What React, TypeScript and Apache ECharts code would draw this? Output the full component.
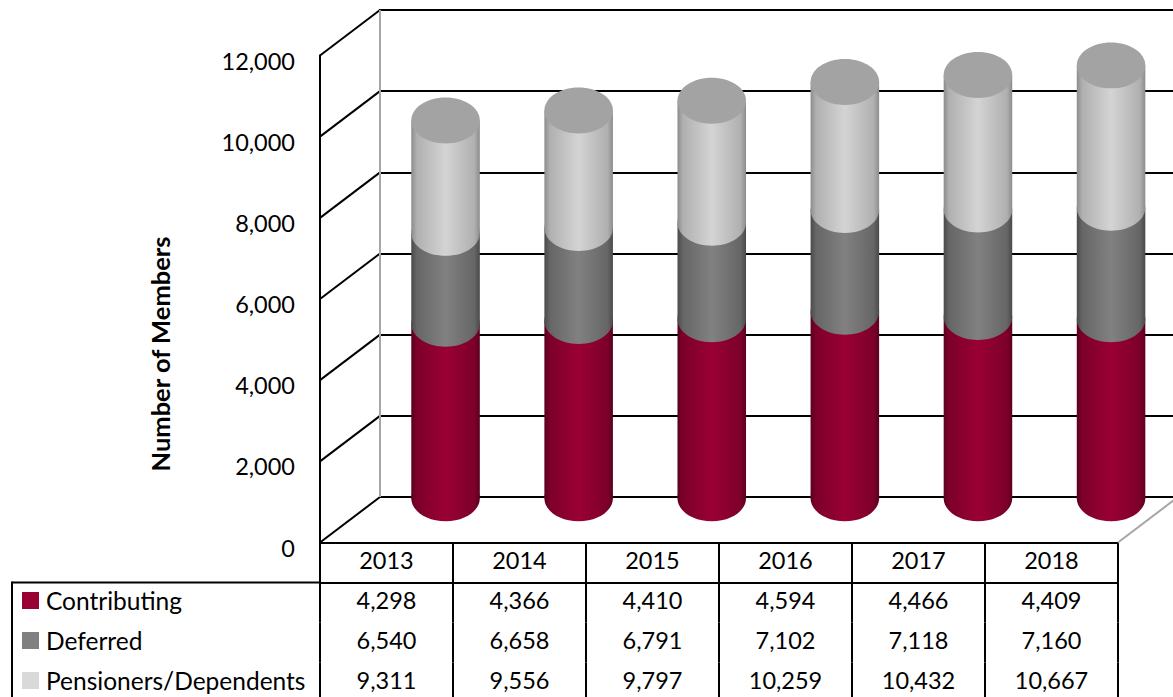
import React, { useEffect, useRef } from "react";
import * as echarts from "echarts";

const years = ["2013", "2014", "2015", "2016", "2017", "2018"];
const contributing = [4298, 4366, 4410, 4594, 4466, 4409];
const deferred = [6540, 6658, 6791, 7102, 7118, 7160];
const pensioners = [9311, 9556, 9797, 10259, 10432, 10667];
const yTicks = [0, 2000, 4000, 6000, 8000, 10000, 12000];

const FONT = "Lato";
const FS = 23.5;
const fmt = (v: number) => v.toLocaleString("en-US");

const grad = (edge: string, mid: string, center: string) =>
  new echarts.graphic.LinearGradient(0, 0, 1, 0, [
    { offset: 0, color: edge },
    { offset: 0.08, color: mid },
    { offset: 0.5, color: center },
    { offset: 0.92, color: mid },
    { offset: 1, color: edge },
  ]);

const makeCylinder = (edge: string, mid: string, center: string, cap: boolean) =>
  (_: any, api: any) => {
    const top = api.coord([api.value(0), api.value(1)]);
    const base = api.coord([api.value(0), api.value(2)]);
    const rx = api.size([1, 0])[0] * 0.2575;
    const ry = rx * 0.67;
    const dy = 1.3;
    const fill = grad(edge, mid, center);
    const children: any[] = [
      { type: "rect", shape: { x: top[0] - rx, y: top[1] + dy, width: 2 * rx, height: base[1] - top[1] }, style: { fill } },
      { type: "ellipse", shape: { cx: top[0], cy: base[1] + dy, rx, ry }, style: { fill } },
    ];
    if (cap) {
      children.push({ type: "ellipse", shape: { cx: top[0], cy: top[1] + dy, rx, ry }, style: { fill: "#a3a3a3" } });
    }
    return { type: "group", children };
  };

const rows = (arr: number[]) => arr.map(fmt);

export default function App() {
  const ref = useRef<HTMLDivElement>(null);
  useEffect(() => {
    document.body.style.margin = "0";
    const chart = echarts.init(ref.current!, undefined, { renderer: "svg" });

    const backTop = 10;
    const step = 487 / 6;
    const diagonals = yTicks.map((_, i) => ({
      type: "line",
      z: 1,
      shape: { x1: 380, y1: backTop + step * i, x2: 320, y2: backTop + step * i + 45.5 },
      style: { stroke: "#000", lineWidth: 2 },
    }));

    const tableAxis = (data: string[], offset: number, line: boolean, margin: number) => ({
      type: "category",
      gridIndex: 1,
      position: "bottom",
      offset,
      data,
      axisLine: { show: line, lineStyle: { color: "#000", width: 2 } },
      axisTick: { show: true, length: 40, lineStyle: { color: "#000", width: 2 } },
      axisLabel: { show: true, margin, color: "#000", fontFamily: FONT, fontSize: FS, interval: 0 },
      splitLine: { show: false },
    });

    chart.setOption({
      animation: false,
      backgroundColor: "#fff",
      legend: {
        orient: "vertical",
        left: 17,
        top: 583,
        height: 160,
        itemWidth: 17,
        itemHeight: 17,
        itemGap: 15,
        icon: "rect",
        data: ["Contributing", "Deferred", "Pensioners/Dependents"],
        textStyle: { color: "#000", fontFamily: FONT, fontSize: 24.5, padding: [0, 0, 0, 2] },
        selectedMode: false,
      },
      grid: [
        { left: 379, top: backTop, width: 798.6, height: 487, outerBoundsMode: "none" },
        { left: 320, top: 55.5, width: 798, height: 487, outerBoundsMode: "none" },
        { left: 320, top: 60.5, width: 798, height: 487, outerBoundsMode: "none" },
      ],
      xAxis: [
        {
          type: "category",
          gridIndex: 0,
          data: years,
          axisLine: { show: false },
          axisTick: { show: false },
          axisLabel: { show: false },
        },
        tableAxis(years, 0, true, 5),
        tableAxis(rows(contributing), 40, true, 5),
        tableAxis(rows(deferred), 80, false, 5),
        tableAxis(rows(pensioners), 120, false, 5),
        {
          type: "category",
          gridIndex: 2,
          data: years,
          axisLine: { show: false },
          axisTick: { show: false },
          axisLabel: { show: false },
        },
      ],
      yAxis: [
        {
          type: "value",
          gridIndex: 0,
          min: 0,
          max: 12000,
          interval: 2000,
          axisLine: { show: false },
          axisTick: { show: false },
          axisLabel: { show: false },
          splitLine: { show: true, lineStyle: { color: "#000", width: 2 } },
        },
        {
          type: "value",
          gridIndex: 1,
          min: 0,
          max: 12000,
          interval: 2000,
          axisLine: { show: true, lineStyle: { color: "#000", width: 2 } },
          axisTick: { show: false },
          axisLabel: { show: false },
          splitLine: { show: false },
        },
        {
          type: "value",
          gridIndex: 2,
          min: 0,
          max: 12000,
          interval: 2000,
          axisLine: { show: false },
          axisTick: { show: false },
          axisLabel: {
            margin: 25,
            color: "#000",
            fontFamily: FONT,
            fontSize: FS,
            formatter: (v: number) => fmt(v),
          },
          splitLine: { show: false },
        },
      ],
      graphic: [
        ...diagonals,
        {
          type: "line",
          z: 1,
          shape: { x1: 380, y1: 10, x2: 380, y2: 497 },
          style: { stroke: "#a6a6a6", lineWidth: 2 },
        },
        {
          type: "line",
          z: 1,
          shape: { x1: 1118, y1: 542.5, x2: 1178, y2: 497 },
          style: { stroke: "#a6a6a6", lineWidth: 2 },
        },
        {
          type: "line",
          z: 1,
          shape: { x1: 12, y1: 582.5, x2: 320, y2: 582.5 },
          style: { stroke: "#000", lineWidth: 2 },
        },
        {
          type: "line",
          z: 1,
          shape: { x1: 12, y1: 581.5, x2: 12, y2: 697 },
          style: { stroke: "#000", lineWidth: 2 },
        },
        {
          type: "text",
          x: 160,
          y: 354,
          rotation: Math.PI / 2,
          style: {
            text: "Number of Members",
            fill: "#000",
            font: `bold 25.5px ${FONT}`,
            align: "center",
            verticalAlign: "middle",
          },
        },
      ],
      series: [
        {
          name: "Contributing",
          type: "custom",
          z: 10,
          xAxisIndex: 0,
          yAxisIndex: 0,
          itemStyle: { color: "#990033" },
          renderItem: makeCylinder("#5c0020", "#7c002a", "#9a0034", false),
          encode: { x: 0, y: 1 },
          data: years.map((y, i) => [y, contributing[i], 0]),
        },
        {
          name: "Deferred",
          type: "custom",
          z: 11,
          xAxisIndex: 0,
          yAxisIndex: 0,
          itemStyle: { color: "#808080" },
          renderItem: makeCylinder("#4a4a4a", "#666666", "#818181", false),
          encode: { x: 0, y: 1 },
          data: years.map((y, i) => [y, deferred[i], contributing[i]]),
        },
        {
          name: "Pensioners/Dependents",
          type: "custom",
          z: 12,
          xAxisIndex: 0,
          yAxisIndex: 0,
          itemStyle: { color: "#d9d9d9" },
          renderItem: makeCylinder("#8c8c8c", "#b0b0b0", "#d4d4d4", true),
          encode: { x: 0, y: 1 },
          data: years.map((y, i) => [y, pensioners[i], deferred[i]]),
        },
      ],
    });
    return () => chart.dispose();
  }, []);
  return <div ref={ref} style={{ width: 1173, height: 697 }} />;
}
